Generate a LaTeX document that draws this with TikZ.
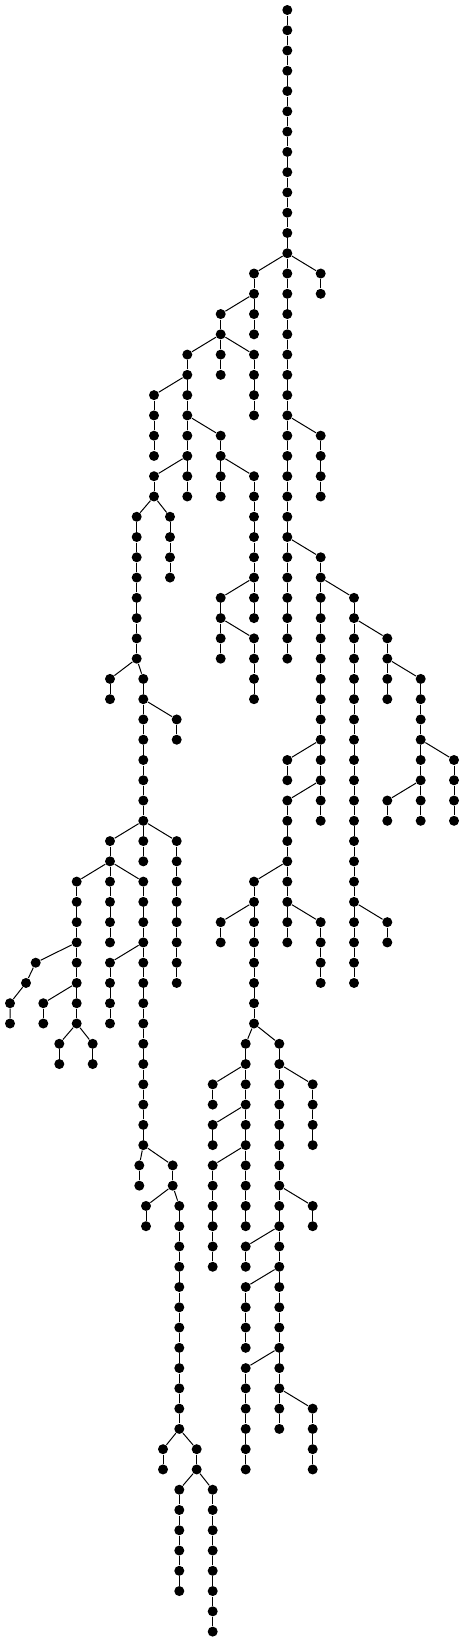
\documentclass[tikz,border=0pt]{standalone}
\tikzset{every picture/.style={line width=0.75pt}}
\tikzset{dot/.style={circle,fill=black,inner sep=0pt,minimum size=7.5pt}}
% vertical chain of dots: name, x, first row, last row
\newcommand{\vchain}[4]{%
  \foreach \rw in {#3,...,#4} {\node[dot] (#1-\rw) at (#2,{10+20.27*\rw}) {};}
  \pgfmathtruncatemacro{\rnext}{#3+1}%
  \foreach \rw [evaluate=\rw as \rq using int(\rw-1)] in {\rnext,...,#4} {\draw (#1-\rq) -- (#1-\rw);}
}

\begin{document}
\begin{tikzpicture}[x=0.75pt,y=0.75pt,yscale=-1,xscale=1]
\useasboundingbox (0,0) rectangle (464,1642);

% Chains
\foreach \nm/\xx/\ra/\rb in {sp/287.3/0/32, a/254/13/16, b/320.7/13/14, c/320.7/21/24,
    d/320.7/27/40, e/354/29/48, f/287.3/37/38, g/287.3/39/46, h/254/43/50,
    i/320.7/45/48, j/220.7/45/46, k/245.7/51/60, l/279.3/51/70, m/212.7/53/54,
    n/212.7/55/56, o/212.7/57/62, p/312.7/53/56, q/312.7/59/60, s/245.7/61/62,
    t/245.7/63/66, u/245.7/67/72, v/312.7/69/72, w/387.3/31/34, y/387.3/45/46,
    z/420.7/33/40, aa/454/37/40, bb/387.3/39/40, cc/220.7/15/18, dd/187.3/17/24,
    ee/254/17/20, ff/154/19/22, gg/220.7/21/24, hh/154/23/24, ii/254/23/30,
    jj/220.7/29/32, kk/254/31/34, ll/136.7/25/32, mm/170/25/28, nn/110/33/34,
    oo/143.3/33/42, pp/176.7/35/36, qq/110/41/46, ss/176.7/41/48, tt/76.7/43/50,
    vv/143.3/43/56, ww/110/47/50, xx/139.3/57/58, yy/172.7/57/58, zz/146/59/60,
    ab/179.3/59/70, ac/163/71/72, ad/196.7/71/72, ae/179.3/73/78, af/212.7/73/80,
    ah/43.3/49/50, ai/59.3/51/52, aj/92.7/51/52}
  {\vchain{\nm}{\xx}{\ra}{\rb}}

% Bent chain on the far left
\node[dot] (ag-47) at (35.7,{10+20.27*47}) {};
\node[dot] (ag-48) at (26,{10+20.27*48}) {};
\node[dot] (ag-49) at (10,{10+20.27*49}) {};
\node[dot] (ag-50) at (10,{10+20.27*50}) {};
\draw (ag-47) -- (ag-48) -- (ag-49) -- (ag-50);

% Connection
\foreach \pa/\ch in {sp-12/a-13, sp-12/b-13, sp-20/c-21, sp-26/d-27, d-28/e-29,
    d-36/f-37, d-38/g-39, g-42/h-43, g-44/i-45, h-44/j-45, h-50/k-51, h-50/l-51,
    k-52/m-53, k-54/n-55, k-56/o-57, l-52/p-53, l-58/q-59, l-60/s-61, l-62/t-63,
    l-66/u-67, l-68/v-69, e-30/w-31, e-44/y-45, w-32/z-33, z-36/aa-37, z-38/bb-39,
    a-14/cc-15, cc-16/dd-17, cc-16/ee-17, dd-18/ff-19, dd-20/gg-21, dd-22/hh-23,
    gg-22/ii-23, ii-28/jj-29, jj-30/kk-31, hh-24/ll-25, hh-24/mm-25, ll-32/nn-33,
    ll-32/oo-33, oo-34/pp-35, oo-40/qq-41, oo-40/ss-41, qq-42/tt-43, qq-42/vv-43,
    vv-46/ww-47, vv-56/xx-57, vv-56/yy-57, yy-58/zz-59, yy-58/ab-59, ab-70/ac-71,
    ab-70/ad-71, ad-72/ae-73, ad-72/af-73, tt-46/ag-47, tt-48/ah-49, tt-50/ai-51,
    tt-50/aj-51}
  {\draw (\pa) -- (\ch);}

\end{tikzpicture}
\end{document}
